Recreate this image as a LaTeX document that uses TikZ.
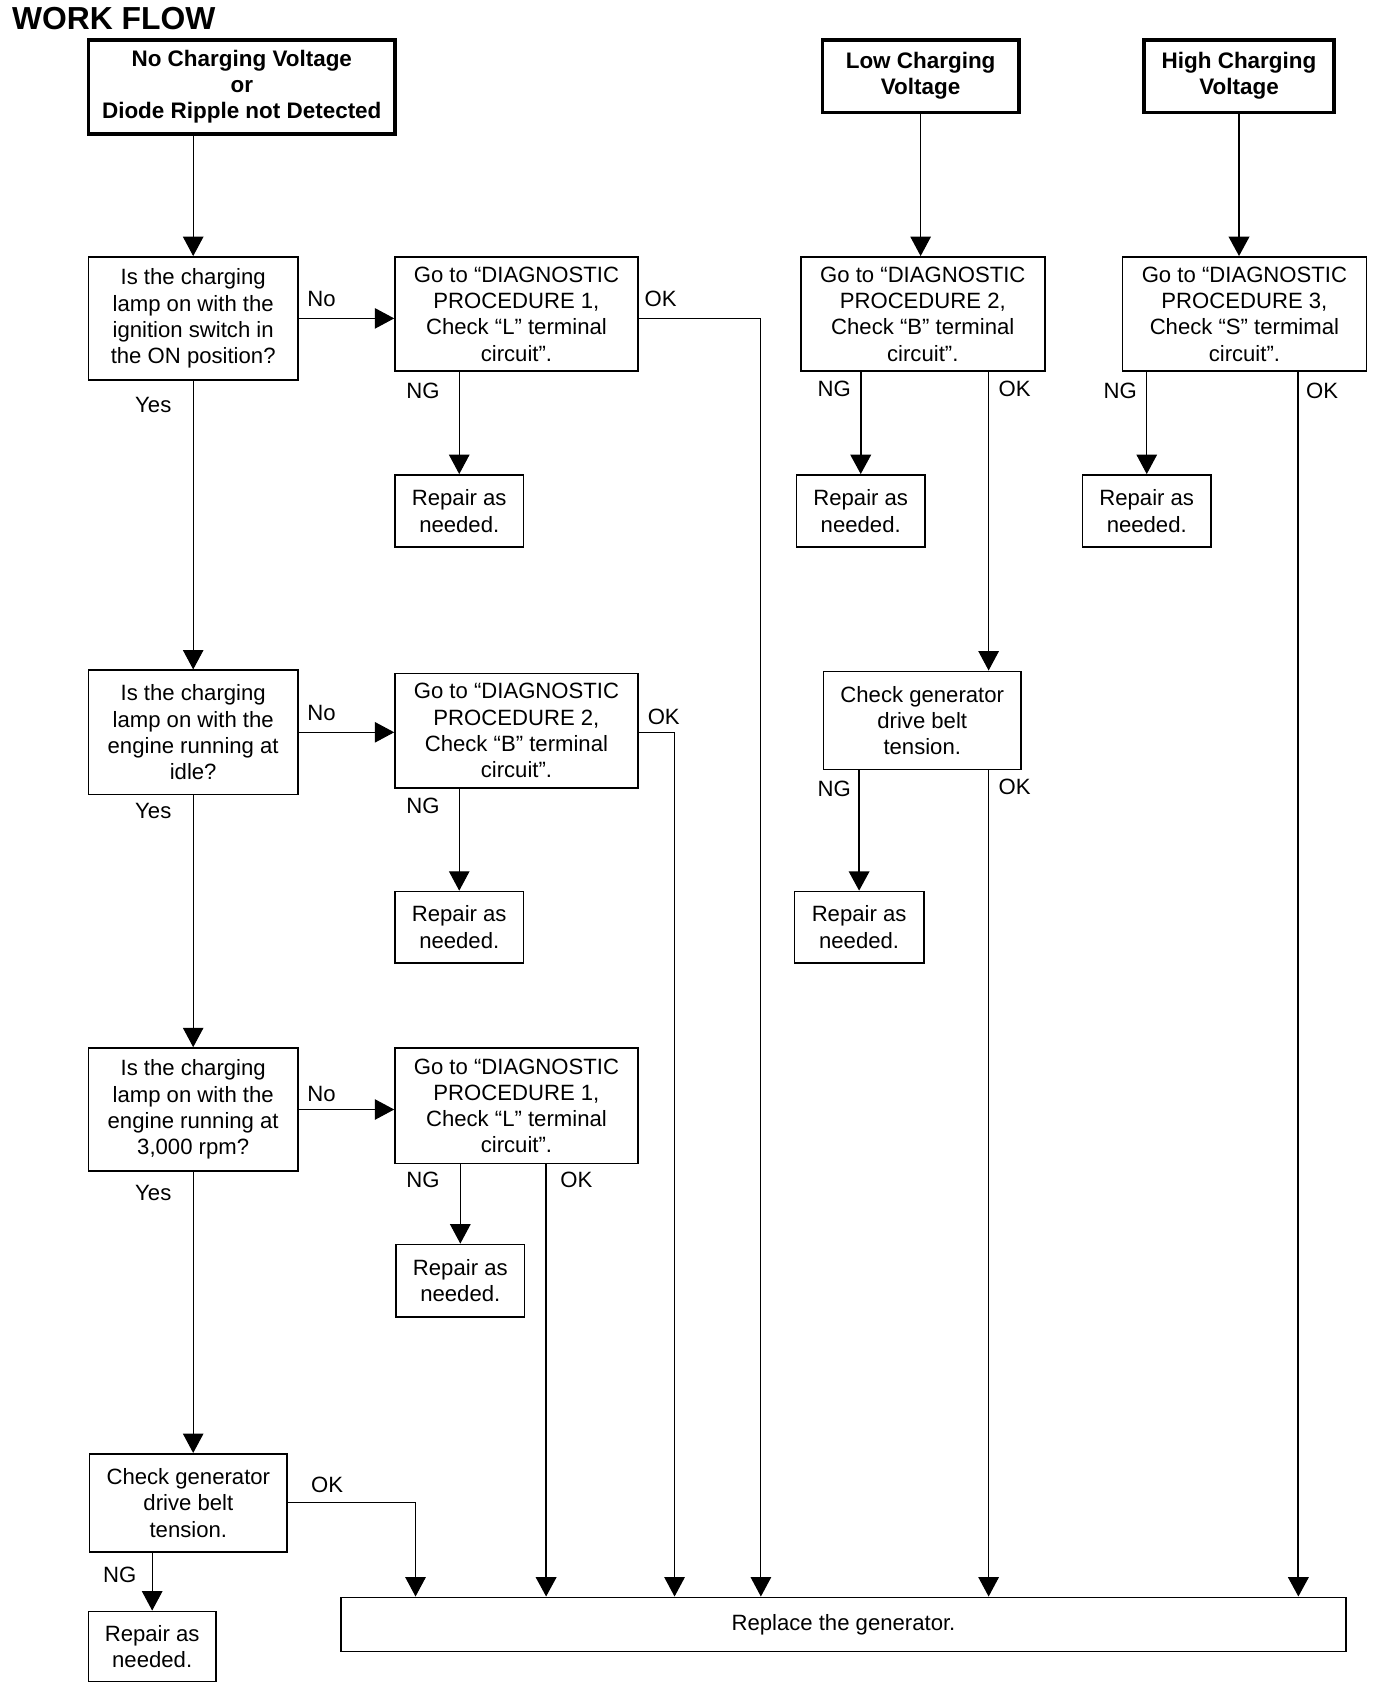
\documentclass[tikz,border=0pt]{standalone}
\usepackage{fontspec}
\setmainfont{Liberation Sans}
\usetikzlibrary{arrows.meta}
\tikzset{
  box/.style={draw, line width=1.5pt, align=center, inner sep=0pt, font=\fontsize{20.5}{24.3}\selectfont},
  topbox/.style={box, line width=3.2pt, font=\bfseries\fontsize{20.8}{24.3}\selectfont},
  lbl/.style={inner sep=0pt, font=\fontsize{20.5}{24.3}\selectfont},
  conn/.style={line width=1pt, -{Triangle[width=19pt,length=18pt]}},
  thickconn/.style={conn, line width=2pt},
  plain/.style={line width=1pt}
}
\begin{document}
\begin{tikzpicture}[x=1pt,y=-1pt]
\useasboundingbox (0,0) rectangle (1290,1564);
\node[anchor=west, inner sep=0pt, font=\bfseries\fontsize{29.5}{30}\selectfont] (title) at (11,17) {WORK FLOW};

% top boxes
\node[topbox, minimum width=284pt, minimum height=87pt] (A) at (224,80.5) {No Charging Voltage\\or\\Diode Ripple not Detected};
\node[topbox, minimum width=182pt, minimum height=67pt] (LowV) at (853,70.5) {Low Charging\\Voltage};
\node[topbox, minimum width=176pt, minimum height=67pt] (HighV) at (1148,70.5) {High Charging\\Voltage};

% column 1
\node[box, minimum width=194pt, minimum height=114pt] (Q1) at (179,295) {Is the charging\\lamp on with the\\ignition switch in\\the ON position?};
\node[box, minimum width=194pt, minimum height=115pt] (Q2) at (179,678.5) {Is the charging\\lamp on with the\\engine running at\\idle?};
\node[box, minimum width=194pt, minimum height=114pt] (Q3) at (179,1028) {Is the charging\\lamp on with the\\engine running at\\3,000 rpm?};
\node[box, minimum width=183pt, minimum height=91pt] (CB1) at (174.5,1392.5) {Check generator\\drive belt\\tension.};
\node[box, minimum width=118pt, minimum height=65pt] (R4) at (141,1525.5) {Repair as\\needed.};

% column 2
\node[box, minimum width=225pt, minimum height=106pt] (P1) at (478.5,291) {Go to “DIAGNOSTIC\\PROCEDURE 1,\\Check “L” terminal\\circuit”.};
\node[box, minimum width=119pt, minimum height=67pt] (R1) at (425.5,473.5) {Repair as\\needed.};
\node[box, minimum width=225pt, minimum height=106pt] (P2b) at (478.5,677) {Go to “DIAGNOSTIC\\PROCEDURE 2,\\Check “B” terminal\\circuit”.};
\node[box, minimum width=119pt, minimum height=66pt] (R2b) at (425.5,859) {Repair as\\needed.};
\node[box, minimum width=225pt, minimum height=107pt] (P1b) at (478.5,1024.5) {Go to “DIAGNOSTIC\\PROCEDURE 1,\\Check “L” terminal\\circuit”.};
\node[box, minimum width=119pt, minimum height=67pt] (R1b) at (426.5,1186.5) {Repair as\\needed.};

% column low
\node[box, minimum width=226pt, minimum height=106pt] (P2a) at (855,291) {Go to “DIAGNOSTIC\\PROCEDURE 2,\\Check “B” terminal\\circuit”.};
\node[box, minimum width=119pt, minimum height=67pt] (R2a) at (797.5,473.5) {Repair as\\needed.};
\node[box, minimum width=183pt, minimum height=91pt] (CB2) at (854.5,667.5) {Check generator\\drive belt\\tension.};
\node[box, minimum width=120pt, minimum height=66pt] (R2c) at (796,859) {Repair as\\needed.};

% column high
\node[box, minimum width=226pt, minimum height=106pt] (P3) at (1153,291) {Go to “DIAGNOSTIC\\PROCEDURE 3,\\Check “S” termimal\\circuit”.};
\node[box, minimum width=119pt, minimum height=67pt] (R3) at (1062.5,473.5) {Repair as\\needed.};

% replace
\node[box, minimum width=931pt, minimum height=50pt] (Rep) at (781.5,1505) {Replace the generator.};

% named columns
\coordinate (c385) at (385,0);
\coordinate (c506) at (506,0);
\coordinate (c625) at (625,0);
\coordinate (c705) at (705,0);
\coordinate (c916) at (916,0);
\coordinate (c1203) at (1203,0);

% connectors
\draw[conn] (A.south -| Q1.north) -- (Q1.north);
\draw[conn] (Q1.south) -- (Q2.north);
\draw[conn] (Q2.south) -- (Q3.north);
\draw[conn] (Q3.south) -- (Q3.south |- CB1.north);
\draw[conn] (R4.north |- CB1.south) -- (R4.north);
\draw[conn] (CB1.east) -| (c385 |- Rep.north);

\draw[conn] (Q1.east) -- (Q1.east -| P1.west);
\draw[conn] (Q2.east) -- (Q2.east -| P2b.west);
\draw[conn] (Q3.east) -- (Q3.east -| P1b.west);

\draw[conn] (R1.north |- P1.south) -- (R1.north);
\draw[conn] (R2b.north |- P2b.south) -- (R2b.north);
\draw[conn] (R1b.north |- P1b.south) -- (R1b.north);

\draw[conn] (P1.east |- Q1.east) -| (c705 |- Rep.north);
\draw[conn] (P2b.east |- Q2.east) -| (c625 |- Rep.north);
\draw[thickconn] (c506 |- P1b.south) -- (c506 |- Rep.north);

\draw[conn] (LowV.south) -- (LowV.south |- P2a.north);
\draw[thickconn] (R2a.north |- P2a.south) -- (R2a.north);
\draw[conn] (c916 |- P2a.south) -- (c916 |- CB2.north);
\draw[thickconn] (R2c.north |- CB2.south) -- (R2c.north);
\draw[conn] (c916 |- CB2.south) -- (c916 |- Rep.north);

\draw[thickconn] (HighV.south) -- (HighV.south |- P3.north);
\draw[conn] (R3.north |- P3.south) -- (R3.north);
\draw[thickconn] (c1203 |- P3.south) -- (c1203 |- Rep.north);

% labels
\node[lbl] (l1) at (298,277) {No};
\node[lbl] (l2) at (298,661) {No};
\node[lbl] (l3) at (298,1014) {No};
\node[lbl] (l4) at (612,277) {OK};
\node[lbl] (l5) at (615,664) {OK};
\node[lbl] (l6) at (534,1093) {OK};
\node[lbl] (l7) at (303,1376) {OK};
\node[lbl] (l8) at (940,360) {OK};
\node[lbl] (l9) at (940,729) {OK};
\node[lbl] (l10) at (1225,362) {OK};
\node[lbl] (l11) at (392,362) {NG};
\node[lbl] (l12) at (392,747) {NG};
\node[lbl] (l13) at (392,1093) {NG};
\node[lbl] (l14) at (773,360) {NG};
\node[lbl] (l15) at (773,731) {NG};
\node[lbl] (l16) at (1038,362) {NG};
\node[lbl] (l17) at (111,1459) {NG};
\node[lbl] (l18) at (142,375) {Yes};
\node[lbl] (l19) at (142,751) {Yes};
\node[lbl] (l20) at (142,1105) {Yes};
\end{tikzpicture}
\end{document}
